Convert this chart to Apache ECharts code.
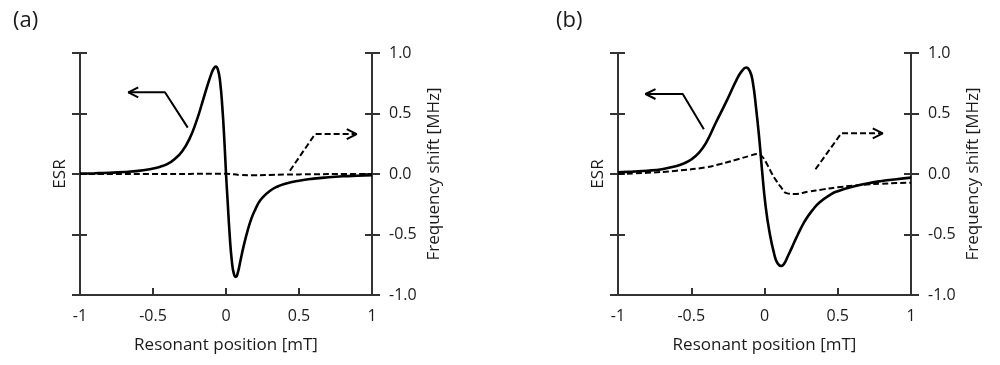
<!DOCTYPE html>
<html><head><meta charset="utf-8">
<script src="https://cdn.jsdelivr.net/npm/echarts@6/dist/echarts.min.js"></script>
<style>html,body{margin:0;padding:0;background:#fff}#c{width:1000px;height:365px}</style>
</head><body><div id="c"></div>
<script>
// ---- data ----
const xTicks = [-1, -0.5, 0, 0.5, 1];
const yTicksRight = ['-1.0', '-0.5', '0.0', '0.5', '1.0'];
const panelLabels = ['(a)', '(b)'];
const xTitle = 'Resonant position [mT]';
const leftTitle = 'ESR';
const rightTitle = 'Frequency shift [MHz]';

// Panel (a): ESR signal (left axis)
const esrA_x = [-1, -0.9, -0.8, -0.7, -0.6, -0.5, -0.45, -0.4, -0.35, -0.3, -0.25, -0.2, -0.16, -0.13, -0.1, -0.085, -0.07, -0.055, -0.04, -0.025, -0.01, 0, 0.01, 0.025, 0.04, 0.055, 0.068, 0.08, 0.1, 0.12, 0.15, 0.175, 0.2, 0.225, 0.25, 0.3, 0.35, 0.4, 0.5, 0.6, 0.7, 0.8, 0.9, 1];
const esrA_y = [0.003, 0.006, 0.01, 0.016, 0.026, 0.045, 0.06, 0.083, 0.125, 0.188, 0.29, 0.445, 0.60, 0.72, 0.83, 0.87, 0.887, 0.86, 0.76, 0.55, 0.25, 0.005, -0.2, -0.5, -0.72, -0.83, -0.85, -0.82, -0.71, -0.6, -0.46, -0.365, -0.295, -0.235, -0.195, -0.14, -0.105, -0.082, -0.055, -0.038, -0.027, -0.019, -0.014, -0.01];
// Panel (a): frequency shift (right axis)
const fsA_x = [-1, -0.5, 0, 0.1, 0.2, 0.3, 0.4, 0.6, 0.8, 1];
const fsA_y = [0, 0, 0.002, -0.008, -0.01, -0.008, -0.005, -0.002, 0, 0];

// Panel (b): ESR signal (left axis)
const esrB_x = [-1, -0.9, -0.8, -0.7, -0.6, -0.55, -0.5, -0.45, -0.4, -0.33, -0.26, -0.19, -0.155, -0.125, -0.1, -0.08, -0.057, -0.034, -0.016, 0.007, 0.034, 0.068, 0.09, 0.114, 0.135, 0.159, 0.19, 0.216, 0.25, 0.285, 0.33, 0.375, 0.45, 0.5, 0.6, 0.7, 0.8, 0.9, 1];
const esrB_y = [0.014, 0.02, 0.027, 0.04, 0.066, 0.088, 0.12, 0.173, 0.255, 0.43, 0.60, 0.78, 0.85, 0.88, 0.85, 0.76, 0.54, 0.27, 0.02, -0.26, -0.48, -0.67, -0.74, -0.76, -0.74, -0.68, -0.6, -0.53, -0.445, -0.37, -0.295, -0.235, -0.17, -0.142, -0.105, -0.078, -0.058, -0.043, -0.03];
// Panel (b): frequency shift (right axis)
const fsB_x = [-1, -0.8, -0.6, -0.4, -0.3, -0.2, -0.1, -0.05, -0.02, 0.02, 0.05, 0.08, 0.11, 0.15, 0.2, 0.3, 0.4, 0.5, 0.6, 0.7, 0.8, 0.9, 1];
const fsB_y = [0, 0.01, 0.027, 0.055, 0.083, 0.116, 0.15, 0.165, 0.15, 0.075, 0.005, -0.055, -0.105, -0.158, -0.165, -0.146, -0.127, -0.11, -0.097, -0.086, -0.08, -0.075, -0.072];

// Annotation arrows (data units): polyline start -> bend -> tip
const arrowA_left_x = [-0.262, -0.418, -0.669];
const arrowA_left_y = [0.383, 0.675, 0.675];
const arrowA_right_x = [0.438, 0.61, 0.895];
const arrowA_right_y = [0.027, 0.33, 0.33];
const arrowB_left_x = [-0.414, -0.558, -0.812];
const arrowB_left_y = [0.37, 0.661, 0.661];
const arrowB_right_x = [0.348, 0.524, 0.807];
const arrowB_right_y = [0.039, 0.336, 0.336];
const headDx = 0.068, headDy = 0.041;

// ---- build ----
const FONT = '"Open Sans", "Noto Sans", sans-serif';
const AX = '#333';
const TXT = '#1a1a1a';
const zip = (xs, ys) => xs.map((x, i) => [x, ys[i]]);

function head(xs, ys, dir) {
  const tx = xs[xs.length - 1], ty = ys[ys.length - 1];
  const bx = tx - dir * headDx;
  return [[bx, ty + headDy], [tx, ty], [bx, ty - headDy]];
}

const grids = [
  {left: 80, right: 628, top: 53, bottom: 70, outerBoundsMode: 'none'},
  {left: 618, right: 89, top: 53, bottom: 70, outerBoundsMode: 'none'}
];

const xAxes = [0, 1].map(g => ({
  type: 'value', gridIndex: g, min: xTicks[0], max: xTicks[xTicks.length - 1], interval: 0.5,
  axisLine: {onZero: false, lineStyle: {color: AX, width: 2}},
  axisTick: {inside: true, length: 7, lineStyle: {color: AX, width: 2}},
  axisLabel: {margin: 13, fontSize: 16, color: TXT, fontFamily: FONT, formatter: v => String(v)},
  splitLine: {show: false},
  name: xTitle, nameLocation: 'middle', nameGap: 42,
  nameTextStyle: {fontSize: 17, color: TXT, fontFamily: FONT}
}));

const yAxes = [];
[0, 1].forEach(g => {
  const base = {type: 'value', gridIndex: g, min: -1, max: 1, interval: 0.5, splitLine: {show: false}};
  yAxes.push(Object.assign({}, base, {
    position: 'left',
    axisLine: {show: true, onZero: false, lineStyle: {color: AX, width: 2}},
    axisTick: {show: true, inside: false, length: 8, lineStyle: {color: AX, width: 2}},
    axisLabel: {show: false},
    name: leftTitle, nameLocation: 'middle', nameGap: 11,
    nameTextStyle: {fontSize: 17, color: TXT, fontFamily: FONT}
  }));
  yAxes.push(Object.assign({}, base, {
    position: 'right',
    axisLine: {show: true, onZero: false, lineStyle: {color: AX, width: 2}},
    axisTick: {show: true, inside: false, length: 8, lineStyle: {color: AX, width: 2}},
    axisLabel: {margin: 17, fontSize: 16, color: TXT, fontFamily: FONT,
      formatter: v => yTicksRight[Math.round((v + 1) / 0.5)]},
    name: rightTitle, nameLocation: 'middle', nameGap: 54,
    nameTextStyle: {fontSize: 17, color: TXT, fontFamily: FONT}
  }));
  yAxes.push(Object.assign({}, base, {
    position: 'left',
    axisLine: {show: false, onZero: false},
    axisTick: {show: true, inside: true, length: 7, lineStyle: {color: AX, width: 2}},
    axisLabel: {show: false}
  }));
  yAxes.push(Object.assign({}, base, {
    position: 'right',
    axisLine: {show: false, onZero: false},
    axisTick: {show: true, inside: true, length: 7, lineStyle: {color: AX, width: 2}},
    axisLabel: {show: false}
  }));
});

function curve(g, yIdx, data, dashed) {
  return {
    type: 'line', xAxisIndex: g, yAxisIndex: g * 4 + yIdx, data: data,
    symbol: 'none', smooth: 0.5, silent: true, z: dashed ? 3 : 4,
    lineStyle: {color: '#000', width: dashed ? 2 : 2.6, type: dashed ? [6, 3] : 'solid'}
  };
}
function poly(g, data, dashed) {
  return {
    type: 'line', xAxisIndex: g, yAxisIndex: g * 4, data: data,
    symbol: 'none', smooth: false, silent: true, z: 5,
    lineStyle: {color: '#000', width: 2, type: dashed ? [6, 3] : 'solid', cap: 'butt'}
  };
}

const series = [
  curve(0, 1, zip(fsA_x, fsA_y), true),
  curve(0, 0, zip(esrA_x, esrA_y), false),
  curve(1, 1, zip(fsB_x, fsB_y), true),
  curve(1, 0, zip(esrB_x, esrB_y), false),
  poly(0, zip(arrowA_left_x, arrowA_left_y), false),
  poly(0, head(arrowA_left_x, arrowA_left_y, -1), false),
  poly(0, zip(arrowA_right_x, arrowA_right_y), true),
  poly(0, head(arrowA_right_x, arrowA_right_y, 1), false),
  poly(1, zip(arrowB_left_x, arrowB_left_y), false),
  poly(1, head(arrowB_left_x, arrowB_left_y, -1), false),
  poly(1, zip(arrowB_right_x, arrowB_right_y), true),
  poly(1, head(arrowB_right_x, arrowB_right_y, 1), false)
];

const chart = echarts.init(document.getElementById('c'), null, {renderer: 'canvas'});
chart.setOption({
  animation: false,
  backgroundColor: '#fff',
  grid: grids,
  xAxis: xAxes,
  yAxis: yAxes,
  series: series,
  graphic: [
    {type: 'text', left: 13, top: 10, style: {text: panelLabels[0], fontSize: 22, fill: TXT, fontFamily: FONT}},
    {type: 'text', left: 556, top: 10, style: {text: panelLabels[1], fontSize: 22, fill: TXT, fontFamily: FONT}}
  ]
});
</script>
</body></html>
